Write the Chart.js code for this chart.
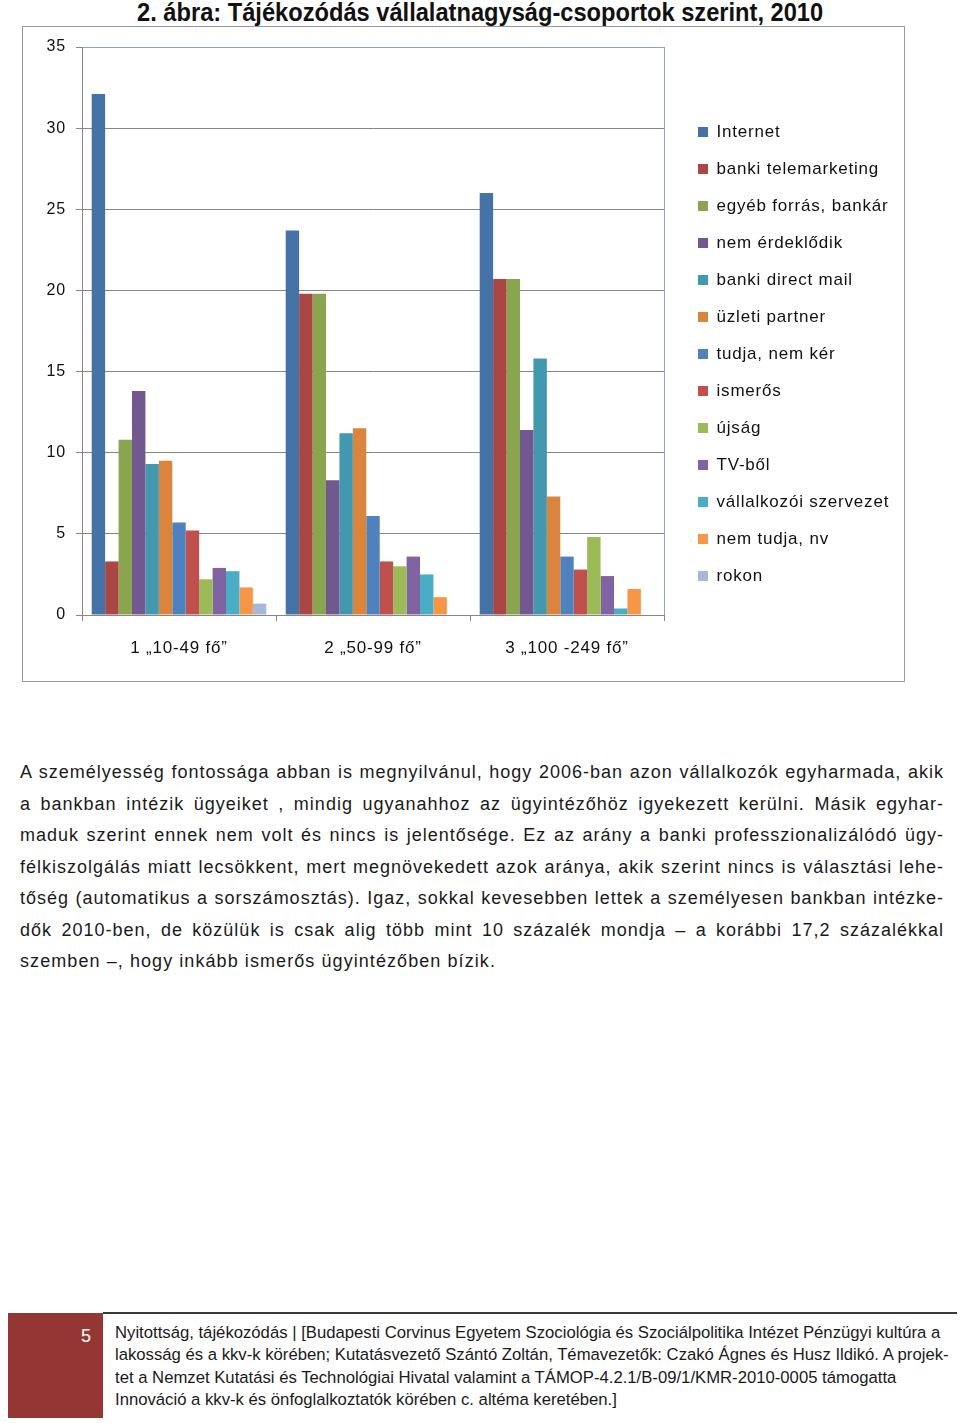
<!DOCTYPE html>
<html>
<head>
<meta charset="utf-8">
<script src="https://cdn.jsdelivr.net/npm/chart.js@4.4.1/dist/chart.umd.min.js"></script>
<style>
  body { margin: 0; background: #fff; width: 960px; height: 1423px; position: relative; overflow: hidden;
         font-family: "Liberation Sans", Arial, sans-serif; color: #1a1a1a; }
  #title { position: absolute; left: 0; top: -2px; width: 960px; text-align: center;
           font-family: "Liberation Sans Narrow", "Arial Narrow", "Liberation Sans", sans-serif; font-weight: bold;
           font-size: 25px; line-height: 28px; color: #111; transform: scaleX(0.946); transform-origin: 482px 0; }
  #chart-box { position: absolute; left: 22px; top: 26px; width: 881px; height: 654px; border: 1px solid #9a9a9a; }
  #chart-box canvas { display: block; }
  #body-text { position: absolute; left: 20px; top: 757px; width: 924px; font-size: 18px; line-height: 31.5px; color: #1a1a1a; }
  #body-text div { text-align: justify; text-align-last: justify; white-space: nowrap; }
  #body-text div.last { text-align-last: left; }
  #foot-box { position: absolute; left: 8px; top: 1313px; width: 95px; height: 105px; background: #943634; }
  #foot-num { position: absolute; left: 8px; top: 1326px; width: 83px; text-align: right; color: #fff; font-size: 18px; }
  #foot-line { position: absolute; left: 103px; top: 1312px; width: 854px; height: 2px; background: #3a3a3a; }
  #foot-text { position: absolute; left: 115px; top: 1322px; font-family: "Liberation Sans Narrow", "Arial Narrow", "Liberation Sans", sans-serif;
               font-size: 16.7px; line-height: 22.4px; color: #1a1a1a; white-space: nowrap; }
</style>
</head>
<body>
<div id="title">2. ábra: Tájékozódás vállalatnagyság-csoportok szerint, 2010</div>
<div id="chart-box"><canvas id="chart" width="881" height="654"></canvas></div>

<div id="body-text">
  <div>A személyesség fontossága abban is megnyilvánul, hogy 2006-ban azon vállalkozók egyharmada, akik</div>
  <div>a bankban intézik ügyeiket , mindig ugyanahhoz az ügyintézőhöz igyekezett kerülni. Másik egyhar-</div>
  <div>maduk szerint ennek nem volt és nincs is jelentősége. Ez az arány a banki professzionalizálódó ügy-</div>
  <div>félkiszolgálás miatt lecsökkent, mert megnövekedett azok aránya, akik szerint nincs is választási lehe-</div>
  <div>tőség (automatikus a sorszámosztás). Igaz, sokkal kevesebben lettek a személyesen bankban intézke-</div>
  <div>dők 2010-ben, de közülük is csak alig több mint 10 százalék mondja – a korábbi 17,2 százalékkal</div>
  <div class="last">szemben –, hogy inkább ismerős ügyintézőben bízik.</div>
</div>

<div id="foot-box"></div>
<div id="foot-num">5</div>
<div id="foot-line"></div>
<div id="foot-text">
  <div>Nyitottság, tájékozódás | [Budapesti Corvinus Egyetem Szociológia és Szociálpolitika Intézet Pénzügyi kultúra a</div>
  <div>lakosság és a kkv-k körében; Kutatásvezető Szántó Zoltán, Témavezetők: Czakó Ágnes és Husz Ildikó. A projek-</div>
  <div>tet a Nemzet Kutatási és Technológiai Hivatal valamint a TÁMOP-4.2.1/B-09/1/KMR-2010-0005 támogatta</div>
  <div>Innováció a kkv-k és önfoglalkoztatók körében c. altéma keretében.]</div>
</div>

<script>
// kategóriák (vállalatnagyság)
const categories = ['1 „10-49 fő”', '2 „50-99 fő”', '3 „100 -249 fő”'];

// sorozatok, leolvasva az ábráról (%)
const internet       = [32.1, 23.7, 26.0];
const telemarketing  = [3.3, 19.8, 20.7];
const egyebForras    = [10.8, 19.8, 20.7];
const nemErdeklodik  = [13.8, 8.3, 11.4];
const directMail     = [9.3, 11.2, 15.8];
const uzletiPartner  = [9.5, 11.5, 7.3];
const tudjaNemKer    = [5.7, 6.1, 3.6];
const ismeros        = [5.2, 3.3, 2.8];
const ujsag          = [2.2, 3.0, 4.8];
const tvbol          = [2.9, 3.6, 2.4];
const vallalkozoi    = [2.7, 2.5, 0.4];
const nemTudja       = [1.7, 1.1, 1.6];
const rokon          = [0.7, 0, 0];

const seriesNames = ['Internet', 'banki telemarketing', 'egyéb forrás, bankár', 'nem érdeklődik',
  'banki direct mail', 'üzleti partner', 'tudja, nem kér', 'ismerős', 'újság', 'TV-ből',
  'vállalkozói szervezet', 'nem tudja, nv', 'rokon'];
const seriesValues = [internet, telemarketing, egyebForras, nemErdeklodik, directMail, uzletiPartner,
  tudjaNemKer, ismeros, ujsag, tvbol, vallalkozoi, nemTudja, rokon];

// y tengely
const yTicks = [0, 5, 10, 15, 20, 25, 30, 35];

const colors = ['#4572A7', '#AA4643', '#89A54E', '#71588F', '#4198AF', '#DB843D',
  '#4F81BD', '#C0504D', '#9BBB59', '#8064A2', '#4BACC6', '#F79646', '#A7B9D9'];

const FONT = "'Liberation Sans', Arial, sans-serif";
const TRACK = '0.8px';
const gridColor = '#868686';
const frameColor = '#8DA3C0';

// --- szövegtörzs: soronkénti betűköz ---
const tctx = document.createElement('canvas').getContext('2d');
tctx.font = '18px ' + FONT;
document.querySelectorAll('#body-text div').forEach(div => {
  const txt = div.textContent;
  const natural = tctx.measureText(txt).width;
  let ls;
  if (div.classList.contains('last')) {
    ls = (476 - natural) / txt.length;
  } else {
    ls = Math.min(1.0, (922 - natural) / txt.length);
  }
  div.style.letterSpacing = ls.toFixed(3) + 'px';
});

// --- legenda szélessége -> jobb oldali padding ---
const legendFontSize = 17, legendPad = 20, legendBox = 10;
const mctx = document.createElement('canvas').getContext('2d');
mctx.font = legendFontSize + 'px ' + FONT;
mctx.letterSpacing = TRACK;
let maxTextW = 0;
seriesNames.forEach(n => { maxTextW = Math.max(maxTextW, mctx.measureText(n).width); });
const legendW = legendPad + legendBox + legendFontSize / 2 + maxTextW + 10;
const plotRight = 641;   // a rajzterület jobb széle a vásznon
const frameGap = 14;     // rés a keret és a legenda között
let padRight = 881 - plotRight - legendW;
if (legendW > (881 - padRight) / 4) padRight = (4 * (881 - plotRight) - 881) / 3;

const trackingPlugin = {
  id: 'tracking',
  beforeUpdate(chart) { chart.ctx.letterSpacing = TRACK; },
  beforeRender(chart) { chart.ctx.letterSpacing = TRACK; },
  afterLayout(chart) {
    const lg = chart.legend;
    const w = lg.width;
    lg.left = chart.chartArea.right + frameGap;
    lg.right = lg.left + w;
  },
  beforeDatasetsDraw(chart) {
    const { ctx, chartArea } = chart;
    ctx.save();
    ctx.strokeStyle = frameColor;
    ctx.lineWidth = 1;
    ctx.beginPath();
    ctx.moveTo(chartArea.right + 0.5, chartArea.top);
    ctx.lineTo(chartArea.right + 0.5, chartArea.bottom);
    ctx.stroke();
    ctx.restore();
  }
};

const datasets = seriesNames.map((name, i) => ({
  label: name,
  data: seriesValues[i],
  backgroundColor: colors[i],
  borderWidth: 0,
  categoryPercentage: 0.9,
  barPercentage: 1.0
}));

new Chart(document.getElementById('chart'), {
  type: 'bar',
  data: { labels: categories, datasets: datasets },
  plugins: [trackingPlugin],
  options: {
    responsive: false,
    animation: false,
    devicePixelRatio: 1,
    layout: { padding: { top: 0, bottom: 0, left: 0, right: padRight } },
    scales: {
      x: {
        type: 'category',
        offset: true,
        grid: { display: true, drawOnChartArea: false, offset: true, tickLength: 6, color: gridColor },
        border: { color: gridColor },
        ticks: { color: '#111', font: { family: FONT, size: 17 }, padding: 17, maxRotation: 0 },
        afterFit: s => { s.height = 66; }
      },
      xTop: {
        type: 'category',
        position: 'top',
        grid: { display: false },
        ticks: { display: false },
        border: { color: frameColor },
        afterFit: s => { s.height = 20; }
      },
      y: {
        min: 0,
        max: 35,
        afterBuildTicks: s => { s.ticks = yTicks.map(v => ({ value: v })); },
        grid: { color: gridColor, tickLength: 6 },
        border: { color: gridColor },
        ticks: { color: '#111', font: { family: FONT, size: 16 }, padding: 10 },
        afterFit: s => { s.width = 59; }
      }
    },
    plugins: {
      legend: {
        position: 'right',
        align: 'center',
        labels: {
          boxWidth: legendBox,
          boxHeight: legendBox,
          padding: legendPad,
          color: '#111',
          font: { family: FONT, size: legendFontSize }
        }
      },
      tooltip: { enabled: false }
    }
  }
});
</script>
</body>
</html>
